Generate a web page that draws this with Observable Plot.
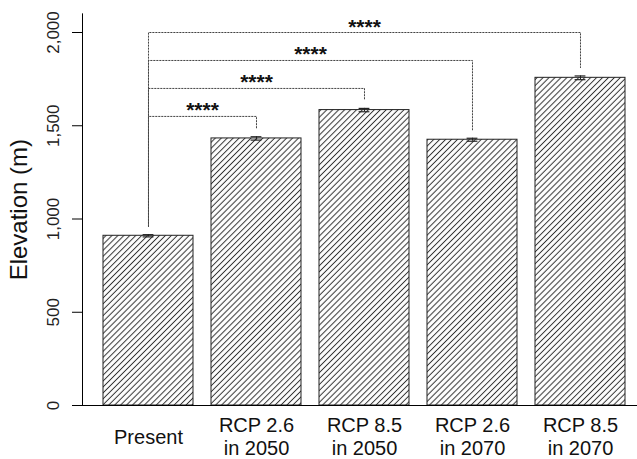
<!DOCTYPE html>
<html>
<head>
<meta charset="utf-8">
<script src="https://cdn.jsdelivr.net/npm/d3@7"></script>
<script src="https://cdn.jsdelivr.net/npm/@observablehq/plot@0.6"></script>
<style>
  html, body { margin: 0; padding: 0; background: #fff; }
  svg { display: block; }
</style>
</head>
<body>
<div id="chart"></div>
<script>
// ---- data ----
const categories = ["Present", "RCP 2.6\nin 2050", "RCP 8.5\nin 2050", "RCP 2.6\nin 2070", "RCP 8.5\nin 2070"];
const means = [910, 1432, 1584, 1425, 1757];
const errors = [6, 9, 9, 8, 10];
const yTicks = [0, 500, 1000, 1500, 2000];
// significance brackets: [from index, to index, bracket level]
const bracketFrom = [0, 0, 0, 0];
const bracketTo = [1, 2, 3, 4];
const bracketLevel = [1550, 1700, 1850, 2000];
const bracketLabel = ["****", "****", "****", "****"];

const bars = categories.map((c, i) => ({i, label: c, mean: means[i], se: errors[i]}));
const half = 0.4167;      // half bar width in category units
const capHalf = 0.05;     // half cap width
const gap = 45;           // gap above error bar for bracket legs

const brackets = bracketLevel.map((lv, k) => ({
  k, a: bracketFrom[k], b: bracketTo[k], level: lv, label: bracketLabel[k]
}));
const bracketPts = brackets.flatMap(br => [
  {k: br.k, x: br.a, y: means[br.a] + errors[br.a] + gap},
  {k: br.k, x: br.a, y: br.level},
  {k: br.k, x: br.b, y: br.level},
  {k: br.k, x: br.b, y: means[br.b] + errors[br.b] + gap}
]);

const font = "'Liberation Sans', Arial, Helvetica, sans-serif";

const svg = Plot.plot({
  width: 637,
  height: 459,
  marginLeft: 82,
  marginRight: 0,
  marginTop: 13.35,
  marginBottom: 54,
  style: {fontFamily: font, background: "#fff", color: "#000", overflow: "visible"},
  x: {type: "linear", domain: [-0.6111, 4.5278], axis: null},
  y: {domain: [0, 2100], axis: null},
  marks: [
    // bars
    Plot.rectY(bars, {x1: d => d.i - half, x2: d => d.i + half, y: "mean", fill: "url(#hatch)", stroke: "#222", strokeWidth: 1}),
    // error bars
    Plot.ruleX(bars, {x: "i", y1: d => d.mean - d.se, y2: d => d.mean + d.se, stroke: "#222", strokeWidth: 1}),
    Plot.ruleY(bars, {x1: d => d.i - capHalf, x2: d => d.i + capHalf, y: d => d.mean + d.se, stroke: "#222", strokeWidth: 1.2}),
    Plot.ruleY(bars, {x1: d => d.i - capHalf, x2: d => d.i + capHalf, y: d => d.mean - d.se, stroke: "#222", strokeWidth: 1.2}),
    // significance brackets
    Plot.line(bracketPts, {x: "x", y: "y", z: "k", stroke: "#444", strokeWidth: 1, strokeDasharray: "1.3,1.7", curve: "linear"}),
    Plot.text(brackets, {x: d => (d.a + d.b) / 2, y: "level", text: "label", lineAnchor: "bottom", dy: 1, fontSize: 21, fontWeight: "bold", fill: "#111"}),
    // y axis line & ticks
    Plot.frame({anchor: "left", stroke: "#000", strokeWidth: 1}),
    Plot.axisY({ticks: yTicks, tickSize: 10, tickFormat: () => "", label: null, stroke: "#000"}),
    Plot.text(yTicks, {y: d => d, text: d => d3.format(",")(d), frameAnchor: "left", textAnchor: "middle", lineAnchor: "middle", dx: -29, rotate: -90, fontSize: 17, fill: "#222"}),
    // baseline
    Plot.ruleY([0], {stroke: "#000", strokeWidth: 1, insetLeft: -10}),
    // x tick labels
    Plot.text(bars, {x: "i", text: "label", frameAnchor: "bottom", dy: 31, lineAnchor: "middle", lineHeight: 1.15, fontSize: 20, fill: "#111"}),
    // y axis title
    Plot.text(["Elevation (m)"], {text: d => d, frameAnchor: "left", textAnchor: "middle", lineAnchor: "middle", dx: -63, rotate: -90, fontSize: 24, fill: "#111"})
  ]
});

const ns = "http://www.w3.org/2000/svg";
const defs = document.createElementNS(ns, "defs");
defs.innerHTML = '<pattern id="hatch" width="4.2" height="4.2" patternUnits="userSpaceOnUse" patternTransform="rotate(45)">' +
  '<rect width="4.2" height="4.2" fill="#fff"/>' +
  '<line x1="2.1" y1="-1" x2="2.1" y2="5.2" stroke="#333" stroke-width="1"/></pattern>';
svg.insertBefore(defs, svg.firstChild);
document.getElementById("chart").appendChild(svg);
</script>
</body>
</html>
